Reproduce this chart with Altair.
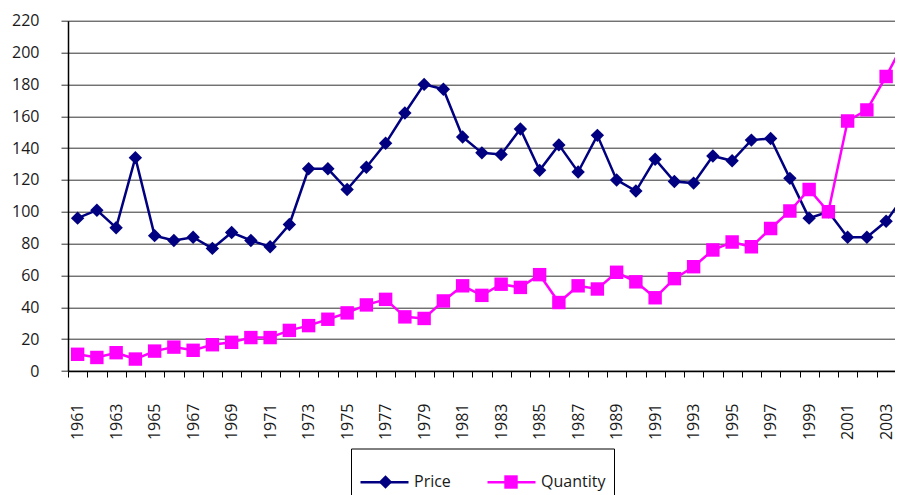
import altair as alt
import pandas as pd

years = list(range(1961, 2005))
price = [96, 101, 90, 134, 85, 82, 84, 77, 87, 82, 78, 92,
         127, 127, 114, 128, 143, 162, 180, 177, 147, 137, 136, 152, 126, 142, 125, 148,
         120, 113, 133, 119, 118, 135, 132, 145, 146, 121, 96, 100, 84, 84, 94, 111]
quantity = [10.5, 8.5, 11.5, 7.5, 12.5, 15, 13, 16.5, 18, 21, 21, 25.5,
            28.5, 32.5, 36.5, 41.5, 45, 34, 33, 44, 53.5, 47.5, 54.5, 52.5, 60.5, 43, 53.5, 51.5,
            62, 56, 46, 58, 65.5, 76, 81, 78, 89.5, 100.5, 114, 100, 157, 164, 185, 208]
series_names = ["Price", "Quantity"]
series_colors = ["#000080", "#FF00FF"]
series_shapes = ["diamond", "square"]
y_ticks = list(range(0, 221, 20))

df = pd.DataFrame({
    "year": years + years,
    "value": price + quantity,
    "series": ["Price"] * len(years) + ["Quantity"] * len(years),
})
# marker key (kept distinct so its legend is not merged with the line legend)
marker_names = [s + "*" for s in series_names]
df["series2"] = df["series"] + "*"

FONT = "Open Sans"
band = 19.25
plot_w = 827
plot_h = 350.3
x_min = 1960.5
x_max = x_min + plot_w / band

xscale = alt.Scale(domain=[x_min, x_max], nice=False, zero=False)
yscale = alt.Scale(domain=[0, 220], nice=False, zero=True)

x_axis = alt.Axis(
    values=years, format="d", title=None, grid=False,
    tickOffset=-band / 2, labelOffset=band / 2,
    labelExpr="datum.value % 2 == 1 ? datum.label : ''",
    labelAngle=-90, labelOverlap=False, labelFlush=False,
    tickSize=6, tickColor="#000000", domainColor="#000000", domainWidth=1.5,
    labelPadding=26, labelFont=FONT, labelFontSize=16, labelColor="#1a1a1a",
)
y_axis = alt.Axis(
    values=y_ticks, title=None, grid=True, gridColor="#333333", gridWidth=1,
    tickSize=7, tickColor="#333333", domainColor="#000000", domainWidth=1.5,
    labelPadding=22, labelFont=FONT, labelFontSize=16, labelColor="#1a1a1a",
)

X = alt.X("year:Q", scale=xscale, axis=x_axis)
Y = alt.Y("value:Q", scale=yscale, axis=y_axis)

# legend with the line parts, labels and box
leg_lines = alt.Legend(
    title=None, orient="none", legendX=283, legendY=427.8, direction="horizontal",
    strokeColor="#000000", padding=8, symbolType="stroke",
    symbolSize=2304, symbolStrokeWidth=2.5,
    labelFont=FONT, labelFontSize=16, labelColor="#1a1a1a", labelOffset=4,
    columnPadding=31,
)
# legend with the markers only, laid over the line symbols
leg_marks = alt.Legend(
    title=None, orient="none", legendX=309.5, legendY=453.3, direction="horizontal",
    padding=0, symbolSize=180, symbolStrokeWidth=0, symbolOpacity=1,
    labelFont=FONT, labelFontSize=16, labelOpacity=0, labelOffset=22.5,
    labelExpr="replace(datum.label, '*', '')",
    columnPadding=49.5,
)

lines = alt.Chart().mark_line(strokeWidth=2.5, clip=True).encode(
    x=X, y=Y,
    color=alt.Color("series:N", scale=alt.Scale(domain=series_names, range=series_colors), legend=leg_lines),
)
points = alt.Chart().mark_point(filled=True, size=180, opacity=1, clip=True).encode(
    x=X, y=Y,
    fill=alt.Fill("series2:N", scale=alt.Scale(domain=marker_names, range=series_colors), legend=leg_marks),
    shape=alt.Shape("series2:N", scale=alt.Scale(domain=marker_names, range=series_shapes), legend=leg_marks),
)

chart = alt.layer(lines, points, data=df).properties(
    width=plot_w, height=plot_h,
    padding={"left": 60, "top": 12.7, "right": 0, "bottom": 124},
    autosize=alt.AutoSizeParams(type="none"),
).configure_view(stroke=None)

chart.save("out.html", embed_options={"renderer": "svg", "actions": False})
